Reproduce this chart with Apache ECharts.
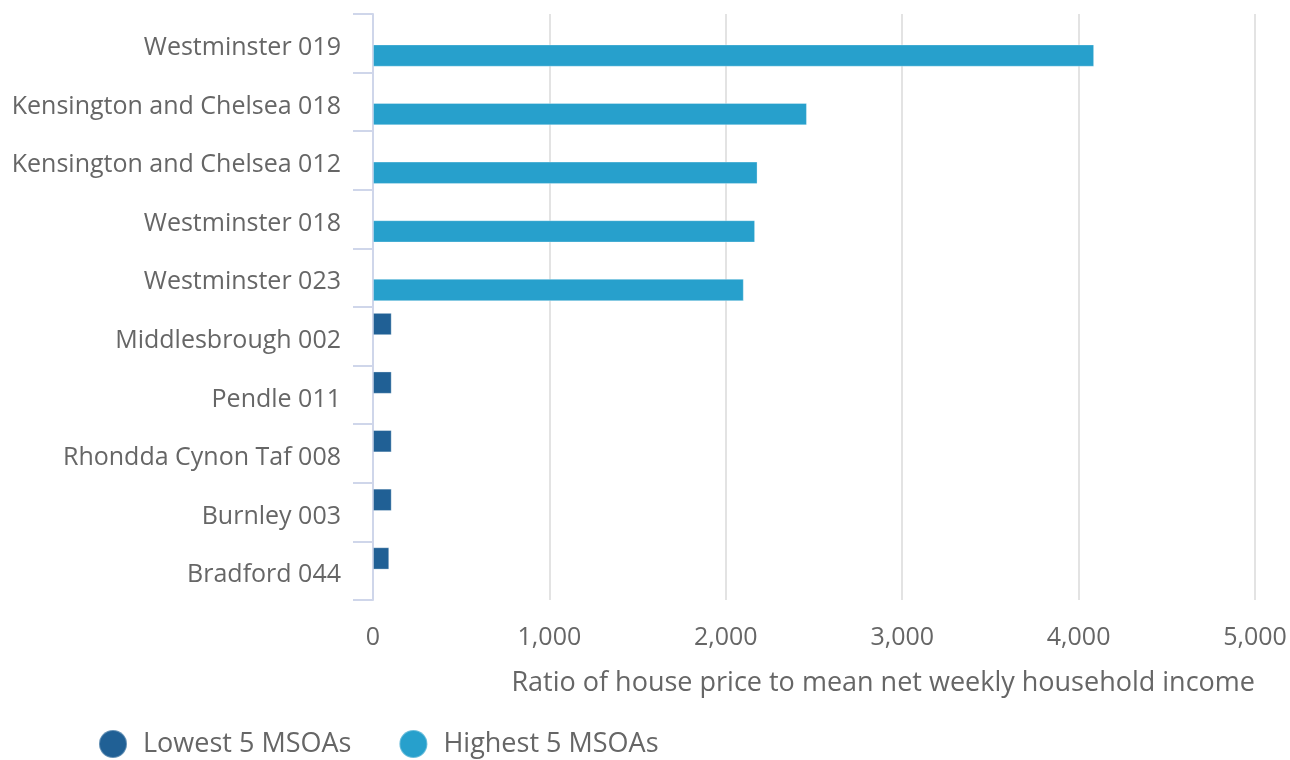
<!DOCTYPE html>
<html><head><meta charset="utf-8">
<script src="https://cdn.jsdelivr.net/npm/echarts@6/dist/echarts.min.js"></script>
<style>html,body{margin:0;padding:0;background:#fff}#c{width:1290px;height:760px}</style>
</head><body><div id="c"></div>
<script>
const categories = ["Westminster 019","Kensington and Chelsea 018","Kensington and Chelsea 012","Westminster 018","Westminster 023","Middlesbrough 002","Pendle 011","Rhondda Cynon Taf 008","Burnley 003","Bradford 044"];
const lowestValues = [null,null,null,null,null,106,106,106,106,92];
const highestValues = [4088,2460,2180,2166,2102,null,null,null,null,null];
const xTicks = [0,1000,2000,3000,4000,5000];
const axisTitle = "Ratio of house price to mean net weekly household income";
const seriesNames = ["Lowest 5 MSOAs","Highest 5 MSOAs"];

const chart = echarts.init(document.getElementById('c'));
const font = '"Open Sans", "Noto Sans", sans-serif';
chart.setOption({
  animation:false,
  textStyle:{fontFamily:font},
  grid:{left:373,right:35,top:14,bottom:160,containLabel:false},
  legend:{
    left:93, top:724, itemWidth:50, itemHeight:28, itemGap:47, icon:'circle',
    textStyle:{fontSize:27,color:'#666',fontFamily:font},
    data:seriesNames
  },
  xAxis:{
    type:'value', min:xTicks[0], max:xTicks[xTicks.length-1], interval:1000,
    axisLine:{show:false}, axisTick:{show:false},
    splitLine:{show:true,lineStyle:{color:'#e3e3e3',width:2}},
    axisLabel:{fontSize:25,color:'#666',margin:25,fontFamily:font,
      formatter:v=>v.toLocaleString('en-GB'),
      showMinLabel:true},
    name:axisTitle, nameLocation:'end', nameGap:0,
    nameTextStyle:{fontSize:27,color:'#666',fontFamily:font,align:'right',verticalAlign:'top',padding:[70,0,0,0]}
  },
  yAxis:{
    type:'category', inverse:true, data:categories,
    axisLine:{show:true,lineStyle:{color:'#cfd6ea',width:2}},
    axisTick:{show:true,length:20,lineStyle:{color:'#cfd6ea',width:2}},
    axisLabel:{color:'#666',margin:32,fontFamily:font,
      formatter:v=>'{a|'+v+'}',
      rich:{a:{fontSize:25,color:'#666',fontFamily:font,padding:[9,0,0,0]}}}
  },
  series:[
    {name:seriesNames[0],type:'bar',data:lowestValues,barGap:'10%',barCategoryGap:'20%',
     itemStyle:{color:'#206095',borderColor:'rgba(255,255,255,0.3)',borderWidth:1}},
    {name:seriesNames[1],type:'bar',data:highestValues,barGap:'10%',barCategoryGap:'20%',
     itemStyle:{color:'#27a0cc',borderColor:'rgba(255,255,255,0.3)',borderWidth:1}}
  ]
});
</script></body></html>
